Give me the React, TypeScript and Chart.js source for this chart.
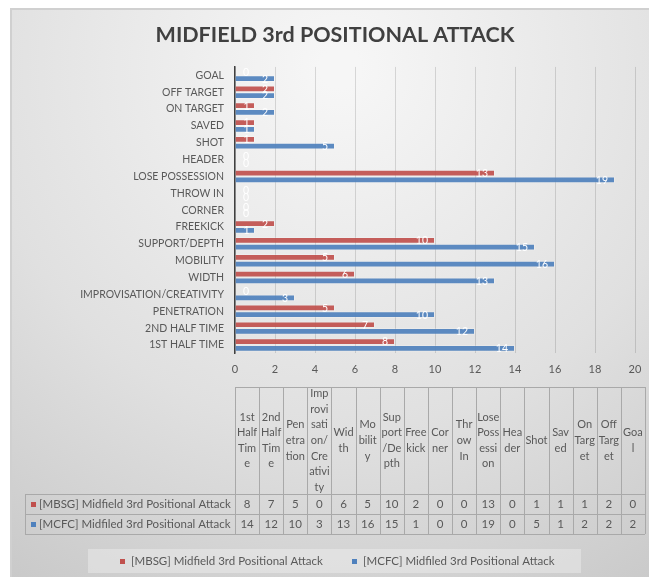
import React, { useEffect, useRef } from "react";
import { Chart, registerables } from "chart.js";

Chart.register(...registerables);

// ---- data -------------------------------------------------------------
const categories = [
  "1st Half Time",
  "2nd Half Time",
  "Penetration",
  "Improvisation/Creativity",
  "Width",
  "Mobility",
  "Support/Depth",
  "Freekick",
  "Corner",
  "Throw In",
  "Lose Possession",
  "Header",
  "Shot",
  "Saved",
  "On Target",
  "Off Target",
  "Goal",
];

// column headings of the data table, wrapped to the narrow column width
const headerLines = [
  ["1st", "Half", "Tim", "e"],
  ["2nd", "Half", "Tim", "e"],
  ["Pen", "etra", "tion"],
  ["Imp", "rovi", "sati", "on/", "Cre", "ativi", "ty"],
  ["Wid", "th"],
  ["Mo", "bilit", "y"],
  ["Sup", "port", "/De", "pth"],
  ["Free", "kick"],
  ["Cor", "ner"],
  ["Thr", "ow", "In"],
  ["Lose", "Poss", "essi", "on"],
  ["Hea", "der"],
  ["Shot"],
  ["Sav", "ed"],
  ["On", "Targ", "et"],
  ["Off", "Targ", "et"],
  ["Goa", "l"],
];

const mbsgValues = [8, 7, 5, 0, 6, 5, 10, 2, 0, 0, 13, 0, 1, 1, 1, 2, 0];
const mcfcValues = [14, 12, 10, 3, 13, 16, 15, 1, 0, 0, 19, 0, 5, 1, 2, 2, 2];

const seriesNames = [
  "[MBSG] Midfield 3rd Positional Attack",
  "[MCFC] Midfiled 3rd Positional Attack",
];
const seriesColors = ["rgba(192,80,77,0.92)", "rgba(79,129,189,0.92)"];
const seriesKeys = ["#C0504D", "#4F81BD"];

const chartTitle = "MIDFIELD 3rd POSITIONAL ATTACK";

const xMin = 0;
const xMax = 20;
const xStep = 2;

// ---- styling ----------------------------------------------------------
const FONT = "Lato, 'Open Sans', sans-serif";
const TEXT = "#595959";
const W = 647;
const H = 569;

// first category sits at the bottom of the bar chart
const barLabels = categories.map((c) => c.toUpperCase()).reverse();
const barSeries = [mbsgValues, mcfcValues].map((s) => [...s].reverse());

const backgroundPlugin = {
  id: "panelBackground",
  beforeDraw(chart: Chart) {
    const { ctx } = chart;
    ctx.save();
    const g = ctx.createRadialGradient(330, 60, 20, 330, 60, 640);
    g.addColorStop(0, "#f6f6f6");
    g.addColorStop(0.55, "#e0e0e0");
    g.addColorStop(1, "#c6c6c6");
    ctx.fillStyle = g;
    ctx.fillRect(0, 0, W, H);
    ctx.strokeStyle = "#d0d0d0";
    ctx.lineWidth = 2;
    ctx.beginPath();
    ctx.moveTo(1, H);
    ctx.lineTo(1, 1);
    ctx.lineTo(W, 1);
    ctx.stroke();

    // heading, centred over the whole panel
    ctx.fillStyle = "#404040";
    ctx.font = `bold 21.5px ${FONT}`;
    ctx.textAlign = "center";
    ctx.textBaseline = "middle";
    ctx.fillText(chartTitle, 325, 27.5);
    ctx.restore();
  },
};

const valueLabelPlugin = {
  id: "valueLabels",
  afterDatasetsDraw(chart: Chart) {
    const { ctx } = chart;
    ctx.save();
    ctx.font = `10.5px ${FONT}`;
    ctx.fillStyle = "#ffffff";
    ctx.textBaseline = "middle";
    ctx.textAlign = "left";
    chart.data.datasets.forEach((ds, di) => {
      const meta = chart.getDatasetMeta(di);
      meta.data.forEach((bar: any, i: number) => {
        const text = String(ds.data[i]);
        const w = ctx.measureText(text).width;
        const right = Math.max(bar.x - 7, bar.base + 8 + w);
        ctx.fillText(text, right - w, bar.y + 0.5);
      });
    });
    ctx.restore();
  },
};

const tablePlugin = {
  id: "dataTable",
  afterDraw(chart: Chart) {
    const { ctx } = chart;
    const left = chart.chartArea.left;
    const right = 635;
    const colW = (right - left) / categories.length;
    const headTop = 379;
    const headBottom = 486;
    const rowH = 20;
    const labelLeft = 15;
    const series = [mbsgValues, mcfcValues];

    ctx.save();
    ctx.strokeStyle = "#a9a9a9";
    ctx.lineWidth = 1;
    ctx.fillStyle = TEXT;

    // grid
    const tableBottom = headBottom + rowH * series.length;
    ctx.beginPath();
    for (let c = 0; c <= categories.length; c++) {
      const x = Math.round(left + c * colW) + 0.5;
      ctx.moveTo(x, headTop);
      ctx.lineTo(x, tableBottom);
    }
    ctx.moveTo(left, headTop + 0.5);
    ctx.lineTo(right, headTop + 0.5);
    for (let r = 0; r <= series.length; r++) {
      const y = Math.round(headBottom + r * rowH) + 0.5;
      ctx.moveTo(labelLeft, y);
      ctx.lineTo(right, y);
    }
    ctx.moveTo(labelLeft + 0.5, headBottom);
    ctx.lineTo(labelLeft + 0.5, tableBottom);
    ctx.stroke();

    // column headings
    ctx.font = `11px ${FONT}`;
    ctx.textAlign = "center";
    ctx.textBaseline = "middle";
    const lineH = 15.6;
    const headMid = (headTop + headBottom) / 2;
    headerLines.forEach((lines, c) => {
      const cx = left + c * colW + colW / 2;
      const y0 = headMid - ((lines.length - 1) * lineH) / 2;
      lines.forEach((ln, k) => ctx.fillText(ln, cx, y0 + k * lineH));
    });

    // rows
    ctx.font = `11.5px ${FONT}`;
    series.forEach((vals, r) => {
      const cy = headBottom + r * rowH + rowH / 2 + 0.5;
      ctx.fillStyle = seriesKeys[r];
      ctx.fillRect(labelLeft + 6, cy - 2.5, 5, 5);
      ctx.fillStyle = TEXT;
      ctx.textAlign = "left";
      ctx.fillText(seriesNames[r], labelLeft + 14, cy);
      ctx.textAlign = "center";
      vals.forEach((v, c) => {
        ctx.fillText(String(v), left + c * colW + colW / 2, cy);
      });
    });

    // legend
    ctx.fillStyle = "rgba(255,255,255,0.3)";
    ctx.fillRect(78, 541, 493, 24);
    const ly = 553.5;
    const legendX = [110, 342];
    seriesNames.forEach((name, i) => {
      ctx.fillStyle = seriesKeys[i];
      ctx.fillRect(legendX[i], ly - 2.5, 5, 5);
      ctx.fillStyle = TEXT;
      ctx.textAlign = "left";
      ctx.fillText(name, legendX[i] + 11, ly);
    });
    ctx.restore();
  },
};

export default function App() {
  const ref = useRef<HTMLCanvasElement>(null);

  useEffect(() => {
    const canvas = ref.current;
    if (!canvas) return;
    const chart = new Chart(canvas, {
      type: "bar",
      data: {
        labels: barLabels,
        datasets: seriesNames.map((name, i) => ({
          label: name,
          data: barSeries[i],
          backgroundColor: seriesColors[i],
          borderColor: "rgba(255,255,255,0.2)",
          borderWidth: 1,
          categoryPercentage: 0.8,
          barPercentage: 1,
        })),
      },
      options: {
        indexAxis: "y",
        responsive: false,
        animation: false,
        layout: { padding: { left: 0, right: 22, top: 58.9, bottom: 193.6 } },
        plugins: {
          legend: { display: false },
          tooltip: { enabled: false },
          title: { display: false },
        },
        scales: {
          x: {
            min: xMin,
            max: xMax,
            ticks: {
              stepSize: xStep,
              color: TEXT,
              font: { family: FONT, size: 11 },
              padding: 9,
            },
            grid: { color: "rgba(0,0,0,0.13)", drawTicks: false },
            border: { display: false },
            afterFit(scale: any) {
              scale.height = 30;
            },
          },
          y: {
            ticks: {
              color: TEXT,
              font: { family: FONT, size: 10.5 },
              padding: 11,
              autoSkip: false,
            },
            grid: { display: false, drawTicks: false },
            border: { display: true, color: "#404040", width: 1.5 },
            afterFit(scale: any) {
              scale.width = 225;
            },
          },
        },
      },
      plugins: [backgroundPlugin, valueLabelPlugin, tablePlugin],
    });
    return () => chart.destroy();
  }, []);

  return (
    <canvas
      ref={ref}
      width={W}
      height={H}
      style={{ display: "block", marginLeft: 2, width: W, height: H }}
    />
  );
}
